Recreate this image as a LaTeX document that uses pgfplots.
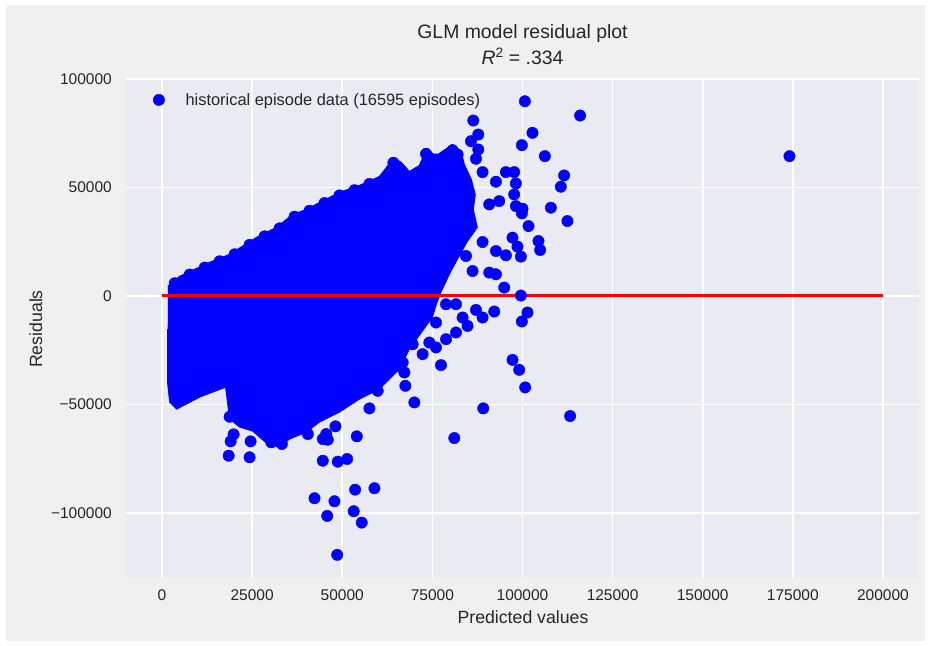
\documentclass[border=0pt]{standalone}
\usepackage{pgfplots}
\pgfplotsset{compat=1.18}
\usepackage{fontspec}
\setmainfont{Liberation Sans}
\definecolor{txt}{HTML}{262626}
\definecolor{axbg}{HTML}{EAEAF2}
\definecolor{figbg}{HTML}{F0F0F0}
\begin{document}
\begin{tikzpicture}
\fill[white] (0pt,0pt) rectangle (928pt,645pt);
\fill[figbg] (6pt,4pt) rectangle (925pt,640pt);
\begin{axis}[
  at={(126pt,67pt)}, anchor=south west,
  scale only axis, width=793pt, height=499pt,
  xmin=-10000, xmax=210000, ymin=-130000, ymax=100000,
  scaled ticks=false,
  axis background/.style={fill=axbg},
  axis line style={draw=none},
  grid=major, major grid style={white, line width=1.6pt},
  major tick length=0pt, tick style={draw=none},
  xtick={0,25000,50000,75000,100000,125000,150000,175000,200000},
  xticklabels={0,25000,50000,75000,100000,125000,150000,175000,200000},
  ytick={-100000,-50000,0,50000,100000},
  yticklabels={−100000,−50000,0,50000,100000},
  ticklabel style={font=\fontsize{15.5}{18}\selectfont, text=txt},
  xticklabel style={anchor=base, yshift=-22.7pt, inner sep=0pt},
  yticklabel style={anchor=east, xshift=-14pt, inner sep=0pt},
  legend style={at={(axis description cs:0,1)}, anchor=north west, draw=none, fill=none,
    font=\fontsize{16.4}{19}\selectfont, text=txt, xshift=24pt, yshift=-10pt,
    /tikz/every odd column/.append style={column sep=19pt}},
  legend cell align=left,
]
% dense core of the cloud (outline of overlapping markers)
\addplot[fill=blue, draw=blue, line width=1pt, forget plot] table {
X Y
1600 4500
4900 9060
13210 15500
18750 19190
26230 27000
31770 31600
36200 37580
40080 39880
44240 43560
49220 47700
54760 50920
60300 55060
62240 59200
64180 63800
66400 61500
68610 57360
71380 60120
73320 67480
76090 64720
80520 69780
83020 66560
83850 60580
85790 53680
86890 46780
86340 39880
87450 31600
84680 25160
81910 16880
79690 9980
77480 2160
76090 -3820
74980 -9800
71380 -18080
68610 -24520
65840 -33720
60300 -42920
54760 -47520
49220 -53500
43680 -58100
40080 -62700
35370 -65920
32600 -69600
29280 -68220
25120 -62240
21520 -60400
18750 -56720
17640 -42000
10440 -46600
4070 -52120
2130 -48900
1580 -40620
1580 -15320
};
\addplot[only marks, mark=*, mark size=5.7pt, color=blue, mark options={draw=blue, fill=blue}] table {
X Y
100660 89740
115980 83160
86340 80860
87730 74410
85700 71330
87730 67510
87090 63230
102770 75200
99830 69490
106200 64430
111550 55550
110630 50350
107870 40680
112460 34520
101660 32210
104430 25310
104900 21170
99550 18130
88920 57060
95400 57060
97700 57060
92630 52650
98170 51860
97700 46800
90770 42200
93540 43720
98170 41420
100000 40220
99830 38060
88920 24850
92630 20710
95400 18730
97230 26880
98610 22730
84320 18410
90770 10770
92630 9990
94930 3870
99550 180
86150 11500
73240 65530
80600 67190
82000 65210
76010 62910
64180 61390
174060 64430
87090 -6440
88920 -9940
92160 -7180
101380 -7640
99830 -11780
97230 -29450
99080 -34050
100740 -42150
89110 -51820
81080 -65490
113210 -55360
77390 -31890
78780 -3820
81550 -3820
76010 -12240
83380 -9940
84760 -13810
81550 -16840
78780 -19930
74150 -21450
76010 -23750
72300 -26830
69530 -22230
66760 -30650
67230 -35250
67500 -41420
70000 -49060
57530 -51820
59830 -43720
63540 -32950
60770 -33730
65840 -32210
48110 -60100
45540 -63650
44600 -65950
54020 -64700
44600 -75930
48750 -76390
51360 -75150
40440 -63650
58920 -88630
53570 -89280
42300 -93240
47840 -94620
45820 -101380
53180 -99220
55400 -104470
48590 -119330
18480 -73630
24290 -74370
19030 -67010
19860 -63780
24570 -67010
18750 -55680
30300 -67470
33240 -68250
45980 -66270
3520 5840
7670 9850
11830 13070
15980 15970
20140 19190
24290 23560
28450 27470
32600 31160
36760 36540
40910 39260
45070 42840
49220 46340
53380 48730
57530 51630
};
\addlegendentry{historical episode data (16595 episodes)}
\addplot[red, line width=3pt, forget plot] coordinates {(0,0) (200000,0)};
\end{axis}
\node[anchor=base, text=txt, font=\fontsize{19.4}{22}\selectfont] at (522.5pt,606pt) {GLM model residual plot};
\node[anchor=base, text=txt, font=\fontsize{19.4}{22}\selectfont] at (522.5pt,580pt) {\textit{R}\textsuperscript{2} = .334};
\node[anchor=base, text=txt, font=\fontsize{17.7}{20}\selectfont] at (523pt,22pt) {Predicted values};
\node[anchor=base, rotate=90, text=txt, font=\fontsize{17.7}{20}\selectfont] at (42pt,316pt) {Residuals};
\end{tikzpicture}
\end{document}
